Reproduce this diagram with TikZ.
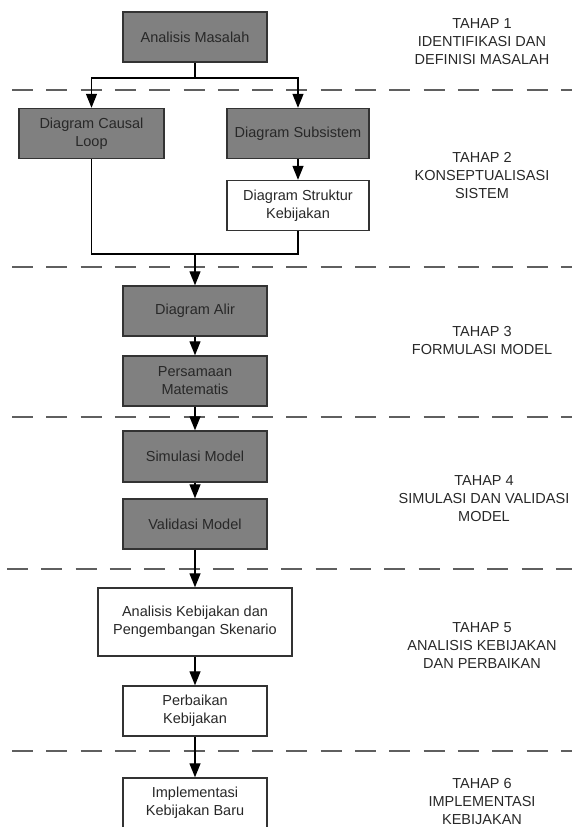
\documentclass[tikz,border=0pt]{standalone}
\usepackage{fontspec}
\setmainfont{Liberation Sans}
\usetikzlibrary{arrows.meta}
\definecolor{boxgray}{RGB}{128,128,128}
\definecolor{linegray}{RGB}{95,95,95}
\definecolor{txt}{RGB}{40,40,40}
\begin{document}
\begin{tikzpicture}[x=1pt,y=-1pt,
  every node/.style={font=\fontsize{14.5}{18}\selectfont, text=txt},
  box/.style={draw=black!80, line width=1.4pt, minimum width=144pt, minimum height=50pt, inner sep=0pt, align=center},
  graybox/.style={box, fill=boxgray},
  whitebox/.style={box, fill=white},
  conn/.style={line width=1.3pt, black},
  arr/.style={conn, -{Triangle[length=14pt,width=11pt]}},
  sepline/.style={draw=linegray, line width=2pt, dash pattern=on 21pt off 13.3pt},
  stage/.style={align=center}]
\useasboundingbox (0,0) rectangle (572,827);

% separators
\draw[sepline] (12,90) -- (572,90);
\draw[sepline] (12,267) -- (572,267);
\draw[sepline] (12,417) -- (572,417);
\draw[sepline] (7,569) -- (572,569);
\draw[sepline] (12,751) -- (572,751);

% boxes
\node[graybox] (am) at (195,37) {Analisis Masalah};
\node[graybox, minimum width=145pt] (dcl) at (91.5,133.5) {Diagram Causal\\Loop};
\node[graybox, minimum width=142pt] (dss) at (298,133.5) {Diagram Subsistem};
\node[whitebox, minimum width=142pt] (dsk) at (298,205.5) {Diagram Struktur\\Kebijakan};
\node[graybox] (da) at (195,311) {Diagram Alir};
\node[graybox] (pm) at (195,381) {Persamaan\\Matematis};
\node[graybox, minimum height=51pt] (sm) at (195,456.5) {Simulasi Model};
\node[graybox] (vm) at (195,524) {Validasi Model};
\node[whitebox, minimum width=194pt, minimum height=68pt] (ak) at (195,622) {Analisis Kebijakan dan\\Pengembangan Skenario};
\node[whitebox] (pk) at (195,711) {Perbaikan\\Kebijakan};
\node[whitebox] (ikb) at (195,803) {Implementasi\\Kebijakan Baru};

% junctions
\coordinate (j1) at (195,78);
\coordinate (j2) at (195,254);

% connectors
\draw[conn] (am.south) -- (j1);
\draw[arr] (j1) -| (dcl.north);
\draw[arr] (j1) -| (dss.north);
\draw[arr] (dss) -- (dsk);
\draw[conn] (dcl.south) |- (j2);
\draw[conn] (dsk.south) |- (j2);
\draw[arr] (j2) -- (da.north);
\draw[arr] (da) -- (pm);
\draw[arr] (pm) -- (sm);
\draw[arr] (sm) -- (vm);
\draw[arr] (vm) -- (ak);
\draw[arr] (ak) -- (pk);
\draw[arr] (pk) -- (ikb);

% stage labels
\node[stage] (t1) at (482,42) {TAHAP 1\\IDENTIFIKASI DAN\\DEFINISI MASALAH};
\node[stage] (t2) at (482,176) {TAHAP 2\\KONSEPTUALISASI\\SISTEM};
\node[stage] (t3) at (482,341) {TAHAP 3\\FORMULASI MODEL};
\node[stage] (t4) at (484,499) {TAHAP 4\\SIMULASI DAN VALIDASI\\MODEL};
\node[stage] (t5) at (482,646) {TAHAP 5\\ANALISIS KEBIJAKAN\\DAN PERBAIKAN};
\node[stage] (t6) at (482,801) {TAHAP 6\\IMPLEMENTASI\\KEBIJAKAN};
\end{tikzpicture}
\end{document}
